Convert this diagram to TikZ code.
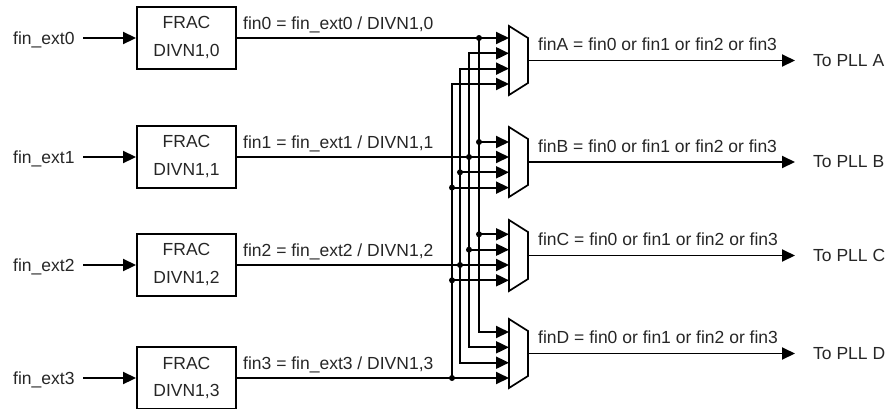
\documentclass[tikz,border=0pt]{standalone}
\usepackage{fontspec}
\setmainfont{Liberation Sans}
\usetikzlibrary{arrows.meta}
\begin{document}
\begin{tikzpicture}[x=1pt,y=-1pt,
  every node/.style={font=\fontsize{17.5}{28}\selectfont, inner sep=0pt, text=black!85},
  wire/.style={line width=1.9pt},
  arr/.style={wire,-{Triangle[length=13pt,width=12pt]}},
  darr/.style={wire,{Triangle[length=13pt,width=12pt]}-{Triangle[length=13pt,width=12pt]}},
  fracbox/.style={draw=black, line width=1.9pt, minimum width=99pt, minimum height=62pt, align=center},
  dot/.style={circle, fill, inner sep=0pt, minimum size=6pt},
  muxshape/.style={line width=1.7pt, line join=miter}]
\useasboundingbox (0,0) rectangle (891,408);

% ---- input labels and FRAC boxes
\node[fracbox] (b0) at (186.5,38)  {FRAC\\DIVN1,0};
\node[fracbox] (b1) at (186.5,157) {FRAC\\DIVN1,1};
\node[fracbox] (b2) at (186.5,265) {FRAC\\DIVN1,2};
\node[fracbox] (b3) at (186.5,378) {FRAC\\DIVN1,3};

\node[anchor=base west] (e0) at (13,44.5)  {fin\_ext0};
\node[anchor=base west] (e1) at (13,163.5) {fin\_ext1};
\node[anchor=base west] (e2) at (13,271.5) {fin\_ext2};
\node[anchor=base west] (e3) at (13,384.5) {fin\_ext3};

\coordinate (s0) at (83,38);
\coordinate (s1) at (83,157);
\coordinate (s2) at (83,265);
\coordinate (s3) at (83,378);
\draw[arr] (s0) -- (b0.west);
\draw[arr] (s1) -- (b1.west);
\draw[arr] (s2) -- (b2.west);
\draw[arr] (s3) -- (b3.west);

% ---- fin labels
\node[anchor=base west] (l0) at (243,29)  {fin0 = fin\_ext0 / DIVN1,0};
\node[anchor=base west] (l1) at (243,148) {fin1 = fin\_ext1 / DIVN1,1};
\node[anchor=base west] (l2) at (243,256) {fin2 = fin\_ext2 / DIVN1,2};
\node[anchor=base west] (l3) at (243,369) {fin3 = fin\_ext3 / DIVN1,3};

% ---- bus x positions
\coordinate (bx0) at (479,0);
\coordinate (bx1) at (469,0);
\coordinate (bx2) at (460,0);
\coordinate (bx3) at (452,0);

% ---- mux input points
\coordinate (A1) at (509,38);    \coordinate (A2) at (509,53.3);
\coordinate (A3) at (509,68.6);  \coordinate (A4) at (509,84);
\coordinate (B1) at (509,142);   \coordinate (B2) at (509,157);
\coordinate (B3) at (509,172.3); \coordinate (B4) at (509,187.6);
\coordinate (C1) at (509,234.3); \coordinate (C2) at (509,249.7);
\coordinate (C3) at (509,265);   \coordinate (C4) at (509,280.3);
\coordinate (D1) at (509,332);   \coordinate (D2) at (509,347.3);
\coordinate (D3) at (509,362.7); \coordinate (D4) at (509,378);

% ---- muxes
\draw[muxshape] (509,26)  -- (528,38)  -- (528,83)  -- (509,95)  -- cycle;
\draw[muxshape] (509,127) -- (528,139) -- (528,185) -- (509,197) -- cycle;
\draw[muxshape] (509,220) -- (528,232) -- (528,279) -- (509,291) -- cycle;
\draw[muxshape] (509,319) -- (528,331) -- (528,376) -- (509,388) -- cycle;

\coordinate (Ao) at (528,60.5);
\coordinate (Bo) at (528,162);
\coordinate (Co) at (528,255.5);
\coordinate (Do) at (528,353.5);

% ---- bus 0 (fin0)
\draw[arr] (b0.east) -- (A1);
\draw[arr] (A1 -| bx0) |- (D1);
\draw[arr] (B1 -| bx0) -- (B1);
\draw[arr] (C1 -| bx0) -- (C1);
\node[dot] (d01) at (A1 -| bx0) {};
\node[dot] (d02) at (B1 -| bx0) {};
\node[dot] (d03) at (C1 -| bx0) {};

% ---- bus 1 (fin1)
\draw[darr] (A2) -| (D2 -| bx1) -- (D2);
\draw[arr] (b1.east) -- (B2);
\draw[arr] (C2 -| bx1) -- (C2);
\node[dot] (d11) at (B2 -| bx1) {};
\node[dot] (d12) at (C2 -| bx1) {};

% ---- bus 2 (fin2)
\draw[darr] (A3) -| (D3 -| bx2) -- (D3);
\draw[arr] (b2.east) -- (C3);
\draw[arr] (B3 -| bx2) -- (B3);
\node[dot] (d21) at (C3 -| bx2) {};
\node[dot] (d22) at (B3 -| bx2) {};

% ---- bus 3 (fin3)
\draw[arr] (D4 -| bx3) |- (A4);
\draw[arr] (b3.east) -- (D4);
\draw[arr] (B4 -| bx3) -- (B4);
\draw[arr] (C4 -| bx3) -- (C4);
\node[dot] (d31) at (D4 -| bx3) {};
\node[dot] (d32) at (B4 -| bx3) {};
\node[dot] (d33) at (C4 -| bx3) {};

% ---- outputs
\node[anchor=west] (pA) at (813,60.5)  {To PLL A};
\node[anchor=west] (pB) at (813,162)   {To PLL B};
\node[anchor=west] (pC) at (813,255.5) {To PLL C};
\node[anchor=west] (pD) at (813,353.5) {To PLL D};
\draw[arr, shorten >=18pt] (Ao) -- (pA.west);
\draw[arr, shorten >=18pt] (Bo) -- (pB.west);
\draw[arr, shorten >=18pt] (Co) -- (pC.west);
\draw[arr, shorten >=18pt] (Do) -- (pD.west);

\node[anchor=base west] (oA) at (538,50.5)  {finA = fin0 or fin1 or fin2 or fin3};
\node[anchor=base west] (oB) at (538,152)   {finB = fin0 or fin1 or fin2 or fin3};
\node[anchor=base west] (oC) at (538,245.5) {finC = fin0 or fin1 or fin2 or fin3};
\node[anchor=base west] (oD) at (538,343.5) {finD = fin0 or fin1 or fin2 or fin3};
\end{tikzpicture}
\end{document}
